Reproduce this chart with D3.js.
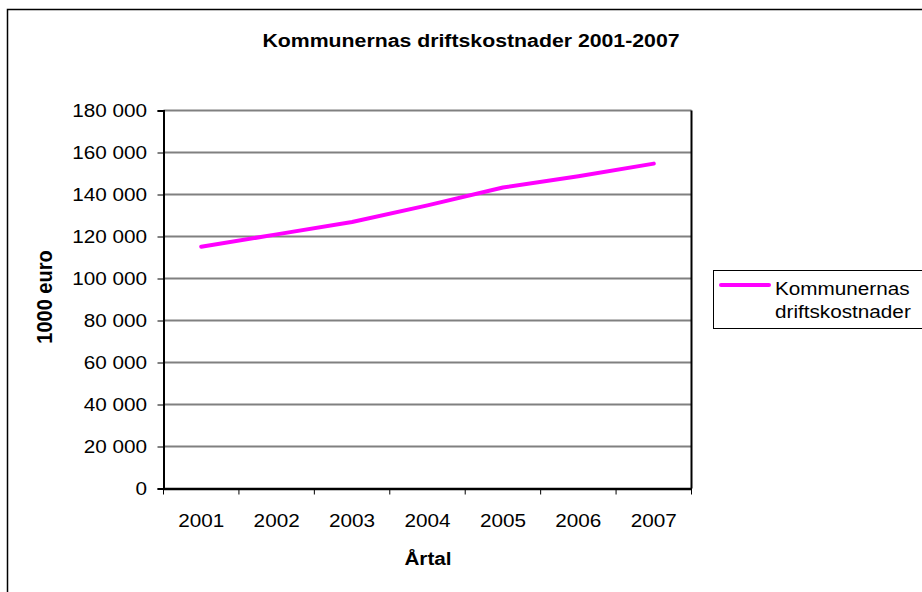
<!DOCTYPE html>
<html>
<head>
<meta charset="utf-8">
<script src="https://cdn.jsdelivr.net/npm/d3@7"></script>
<style>
  html, body { margin: 0; padding: 0; background: #fff; }
  text { font-family: Arial, "Liberation Sans", sans-serif; fill: #000; }
</style>
</head>
<body>
<div id="chart"></div>
<script>
// data
const years = ["2001", "2002", "2003", "2004", "2005", "2006", "2007"];
const costs = [115100, 121000, 126900, 134800, 143300, 148700, 154700];
const yTicks = [0, 20000, 40000, 60000, 80000, 100000, 120000, 140000, 160000, 180000];
const seriesName = ["Kommunernas", "driftskostnader"];
const title = "Kommunernas driftskostnader 2001-2007";

data = years.map((y, i) => ({year: y, value: costs[i]}));

var width = 922;
var height = 592;
var sx = 1.12; // the picture is a bit stretched sideways

margin = ({top: 110.5, right: 230.5, bottom: 103.5, left: 163.5});

var svg = d3.select("#chart").append("svg")
  .attr("width", width)
  .attr("height", height);

// helper: text stretched horizontally around its anchor point
function label(g, x, y, str, size, weight, anchor, rot) {
  return g.append("text")
    .attr("transform", `translate(${x},${y}) scale(${sx},1)` + (rot ? ` rotate(${rot})` : ""))
    .attr("text-anchor", anchor)
    .style("font-size", size + "px")
    .style("font-weight", weight)
    .text(str);
}

// outer chart border (runs off right and bottom edge)
svg.append("rect")
  .attr("x", 7.5).attr("y", 9.5)
  .attr("width", 940).attr("height", 620)
  .attr("fill", "none")
  .attr("stroke", "#000")
  .attr("stroke-width", 1.5);

x = d3.scaleBand()
  .domain(years)
  .range([margin.left, width - margin.right])
  .padding(0);

y = d3.scaleLinear()
  .domain([0, 180000])
  .range([height - margin.bottom, margin.top]);

fmt = d3.formatLocale({decimal: ",", thousands: " ", grouping: [3], currency: ["", ""]}).format(",");

// gridlines
svg.append("g")
  .selectAll("line")
  .data(yTicks.filter(d => d > 0))
  .enter().append("line")
  .attr("x1", margin.left).attr("x2", width - margin.right)
  .attr("y1", d => y(d)).attr("y2", d => y(d))
  .attr("stroke", "#808080")
  .attr("stroke-width", 2);

// right side of plot area
svg.append("line")
  .attr("x1", width - margin.right).attr("x2", width - margin.right)
  .attr("y1", y(180000)).attr("y2", y(0))
  .attr("stroke", "#000")
  .attr("stroke-width", 2);

// y axis
yAxis = g => g
  .attr("transform", `translate(${margin.left},0)`)
  .call(d3.axisLeft(y).tickValues(yTicks).tickSize(6).tickFormat(""))
  .call(g => g.select(".domain").attr("stroke-width", 2))
  .call(g => g.selectAll(".tick line").attr("stroke-width", 1));

svg.append("g").call(yAxis);

// x axis: ticks at band edges
xAxis = g => g
  .attr("transform", `translate(0,${height - margin.bottom})`)
  .call(d3.axisBottom(x).tickSize(0).tickFormat("").tickSizeOuter(0))
  .call(g => g.select(".domain").attr("stroke-width", 2.5));

svg.append("g").call(xAxis);

svg.append("g")
  .selectAll("line")
  .data(years.concat(["end"]))
  .enter().append("line")
  .attr("x1", (d, i) => i < years.length ? x(d) : x.range()[1])
  .attr("x2", (d, i) => i < years.length ? x(d) : x.range()[1])
  .attr("y1", height - margin.bottom)
  .attr("y2", height - margin.bottom + 6)
  .attr("stroke", "#000");

// tick labels
var labels = svg.append("g");
yTicks.forEach(d => label(labels, 147, y(d) + 6.5, fmt(d), 18.5, "normal", "end"));
years.forEach(d => label(labels, x(d) + x.bandwidth() / 2, 527, d, 18.5, "normal", "middle"));

// line
line = d3.line()
  .x(d => x(d.year) + x.bandwidth() / 2)
  .y(d => y(d.value));

svg.append("path")
  .datum(data)
  .attr("fill", "none")
  .attr("stroke", "#ff00ff")
  .attr("stroke-width", 4)
  .attr("stroke-linecap", "round")
  .attr("stroke-linejoin", "round")
  .attr("d", line);

// titles
label(svg, 471, 47, title, 19, "bold", "middle");
label(svg, 428, 565, "Årtal", 18.5, "bold", "middle");
label(svg, 52, 297, "1000 euro", 20, "bold", "middle", -90);

// legend
var leg = svg.append("g");
leg.append("rect")
  .attr("x", 713.5).attr("y", 270.5)
  .attr("width", 220).attr("height", 58)
  .attr("fill", "#fff")
  .attr("stroke", "#000")
  .attr("stroke-width", 1);
leg.append("line")
  .attr("x1", 721).attr("x2", 769)
  .attr("y1", 285).attr("y2", 285)
  .attr("stroke", "#ff00ff")
  .attr("stroke-width", 4)
  .attr("stroke-linecap", "round");
seriesName.forEach((s, i) => label(leg, 775, 295 + i * 23, s, 18.5, "normal", "start"));
</script>
</body>
</html>
